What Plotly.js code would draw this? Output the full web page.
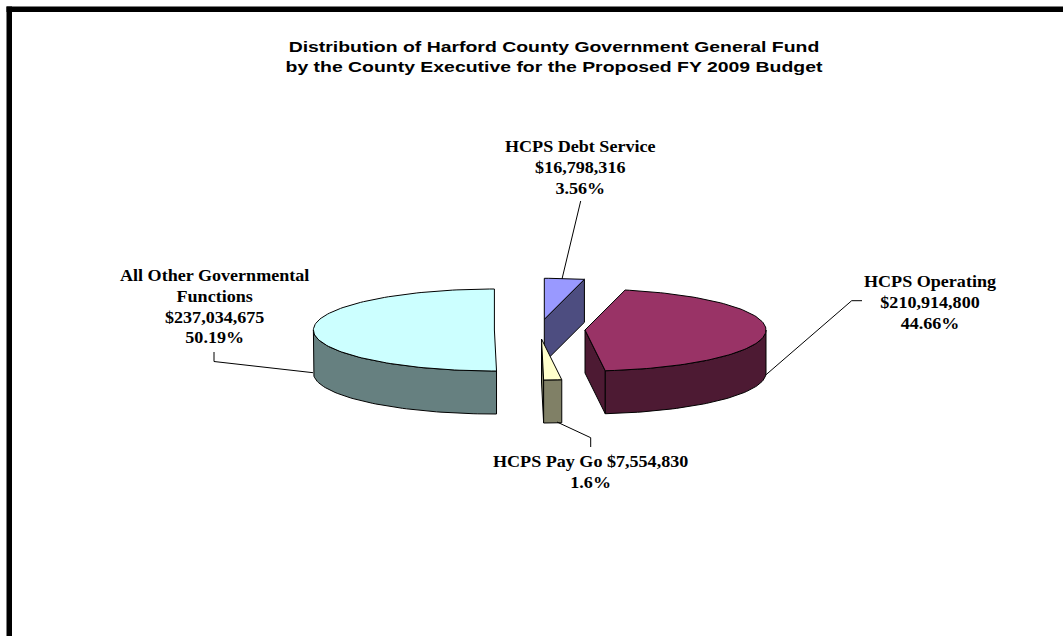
<!DOCTYPE html>
<html>
<head>
<meta charset="utf-8">
<script src="https://cdn.plot.ly/plotly-3.0.1.min.js"></script>
<style>
html,body{margin:0;padding:0;background:#fff}
#chart{width:1063px;height:636px}
/* the reference's text is drawn horizontally stretched */
.gtitle{transform-box:fill-box;transform-origin:center;transform:scaleX(1.295)}
.annotation-text{transform-box:fill-box;transform-origin:center;transform:scaleX(1.13)}
</style>
</head>
<body>
<div id="chart"></div>
<script>
// ---- data (clockwise from 12 o'clock) ----
var categories = ["HCPS Debt Service", "HCPS Operating", "HCPS Pay Go", "All Other Governmental<br>Functions"];
var amounts = [16798316, 210914800, 7554830, 237034675];
var percentLabels = ["3.56%", "44.66%", "1.6%", "50.19%"];
var amountLabels = ["$16,798,316", "$210,914,800", "$7,554,830", "$237,034,675"];
var chartTitle = "Distribution of Harford County Government General Fund<br>by the County Executive for the Proposed FY 2009 Budget";

// ---- styling and layout of the exploded tilted pie ----
var topColors = ["#9999FF", "#993366", "#FFFFCC", "#CCFFFF"];
var wallColors = ["#4D4D80", "#4D1A33", "#808066", "#668080"];
var centreX = [544.3, 585, 541.5, 494.4];
var centreY = [319.3, 330, 339, 330];
var drawOrder = [0, 3, 1, 2];
var radiusX = 181, radiusY = 41, depth = 43;
var firstSliceStart = 0;

var total = amounts.reduce(function (s, v) { return s + v; }, 0);
var traces = [];

function pt(i, deg, drop) {
  var r = deg * Math.PI / 180;
  return [centreX[i] + radiusX * Math.sin(r), centreY[i] - radiusY * Math.cos(r) + (drop || 0)];
}
function arc(i, a, b, drop) {
  var out = [], n = Math.max(2, Math.ceil(Math.abs(b - a) / 1.5));
  for (var k = 0; k <= n; k++) out.push(pt(i, a + (b - a) * k / n, drop));
  return out;
}
function addPoly(points, color, name) {
  var closed = points.concat([points[0]]);
  traces.push({
    type: "scatter", mode: "lines", fill: "toself", fillcolor: color, name: name,
    x: closed.map(function (p) { return p[0]; }),
    y: closed.map(function (p) { return p[1]; }),
    line: { color: "#000000", width: 1 }, hoverinfo: "name", showlegend: false
  });
}

var starts = [], ends = [], running = firstSliceStart;
amounts.forEach(function (v, i) {
  starts[i] = running;
  running += v / total * 360;
  ends[i] = running;
});

drawOrder.forEach(function (i) {
  var a = starts[i], b = ends[i];
  var name = categories[i].replace("<br>", " ");
  // cut face at the trailing edge, when it faces the viewer
  if (Math.sin(b * Math.PI / 180) > 1e-6) {
    addPoly([[centreX[i], centreY[i]], pt(i, b), pt(i, b, depth), [centreX[i], centreY[i] + depth]], wallColors[i], name);
  }
  // outer wall: the part of the rim facing the viewer (90..270 degrees)
  var wa = Math.max(a, 90), wb = Math.min(b, 270);
  if (wb > wa) {
    addPoly(arc(i, wa, wb, 0).concat(arc(i, wb, wa, depth)), wallColors[i], name);
  }
  // top surface
  addPoly([[centreX[i], centreY[i]]].concat(arc(i, a, b, 0)), topColors[i], name);
});

// ---- labels ----
var labelFont = { family: "Liberation Serif, serif", size: 16, color: "#000000" };
var labelX = [580, 930, 590.5, 214.7];
var labelY = [167, 302, 472, 307];
var annotations = categories.map(function (c, i) {
  var head = i === 2 ? c + " " + amountLabels[i] : c + "<br>" + amountLabels[i];
  return {
    xref: "x", yref: "y", x: labelX[i], y: labelY[i], showarrow: false, align: "center",
    xanchor: "center", yanchor: "middle",
    text: "<b>" + head + "<br>" + percentLabels[i] + "</b>", font: labelFont
  };
});

// ---- leader lines (slice edge to label) ----
var leaders = [
  [[562, 279], [580.7, 201]],
  [[765.7, 375], [851.7, 300.7], [862, 300.7]],
  [[557, 422], [590.7, 437.7], [590.7, 447]],
  [[313, 372.7], [214, 361.5], [214, 352]]
];
leaders.forEach(function (l) {
  traces.push({
    type: "scatter", mode: "lines", x: l.map(function (p) { return p[0]; }), y: l.map(function (p) { return p[1]; }),
    line: { color: "#000000", width: 1 }, hoverinfo: "skip", showlegend: false
  });
});

var layout = {
  width: 1063, height: 636,
  margin: { l: 0, r: 0, t: 0, b: 0 },
  paper_bgcolor: "#ffffff", plot_bgcolor: "#ffffff",
  showlegend: false,
  xaxis: { range: [0, 1063], visible: false, fixedrange: true },
  yaxis: { range: [636, 0], visible: false, fixedrange: true },
  title: {
    text: "<b>" + chartTitle + "</b>", x: 554 / 1063, xanchor: "center", xref: "paper",
    y: 1 - 52.5 / 636, yanchor: "middle", yref: "paper",
    font: { family: "Liberation Sans, Arial, sans-serif", size: 15, color: "#000000" }
  },
  annotations: annotations,
  shapes: [
    { type: "rect", xref: "paper", yref: "paper", x0: 6.5 / 1063, x1: 12 / 1063, y0: 0, y1: 1 - 6.5 / 636, fillcolor: "#000000", line: { width: 0 } },
    { type: "rect", xref: "paper", yref: "paper", x0: 6.5 / 1063, x1: 1, y0: 1 - 12 / 636, y1: 1 - 6.5 / 636, fillcolor: "#000000", line: { width: 0 } }
  ]
};
Plotly.newPlot("chart", traces, layout, { displayModeBar: false, staticPlot: true });
</script>
</body>
</html>
